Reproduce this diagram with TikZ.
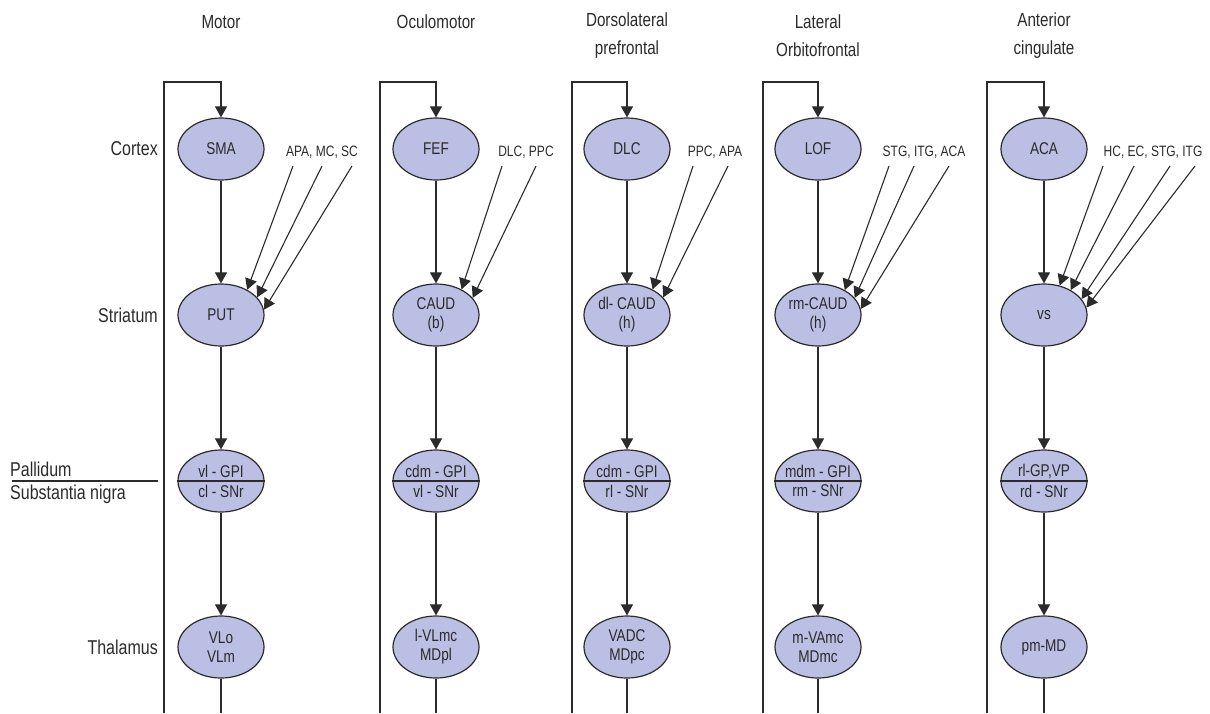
\documentclass[tikz,border=0pt]{standalone}
\usepackage{fontspec}
\setmainfont{Liberation Sans}[FakeStretch=0.8]
\usepackage{tikz}
\usetikzlibrary{shapes.geometric,arrows.meta,positioning,calc}
\definecolor{nucleus}{HTML}{BBBFE3}
\definecolor{ink}{HTML}{2B2B2B}
\tikzset{
  region/.style={ellipse,draw=ink,line width=1.2pt,fill=nucleus,minimum width=86pt,
    minimum height=62pt,inner sep=0pt,align=center,text=ink,font=\fontsize{17}{19}\selectfont},
  flow/.style={draw=ink,line width=1.1pt,-{Triangle[length=11pt,width=12pt]}},
  plain/.style={draw=ink,line width=1.1pt},
  inlabel/.style={text=ink,font=\fontsize{15}{19}\selectfont,inner sep=0pt},
  partlabel/.style={text=ink,font=\fontsize{17}{19}\selectfont,inner sep=0pt},
  rowlabel/.style={text=ink,font=\fontsize{20}{28}\selectfont,inner sep=0pt},
  heading/.style={text=ink,font=\fontsize{19}{28}\selectfont,align=center,inner sep=0pt}
}

\begin{document}
\begin{tikzpicture}[x=1pt,y=-1pt]
  \useasboundingbox (0,0) rectangle (1210,713);

  % headings
  \node[heading] (h-mot) at (221,22) {Motor};
  \node[heading] (h-ocu) at (436,22) {Oculomotor};
  \node[heading] (h-dlp) at (627,36) {Dorsolateral\\prefrontal};
  \node[heading] (h-lof) at (818,36) {Lateral\\Orbitofrontal};
  \node[heading] (h-acc) at (1044,36) {Anterior\\cingulate};

  % row labels
  \node[rowlabel,anchor=east] (r-ctx) at (158,149) {Cortex};
  \node[rowlabel,anchor=east] (r-str) at (158,315) {Striatum};
  \node[rowlabel,anchor=west] (r-pal) at (10,469) {Pallidum};
  \node[rowlabel,anchor=west] (r-snr) at (10,494) {Substantia nigra};
  \coordinate (r-sep1) at (12,481);
  \coordinate (r-sep2) at (158,481);
  \draw[plain] (r-sep1) -- (r-sep2);
  \node[rowlabel,anchor=east] (r-thal) at (158,647) {Thalamus};

  % motor
  \node[region] (mot-ctx) at (221,149) {SMA};
  \node[region] (mot-str) at (221,315) {PUT};
  \node[region] (mot-pal) at (221,481) {};
  \node[region] (mot-thal) at (221,647) {VLo\\VLm};
  \draw[plain] (mot-pal.west) -- (mot-pal.east);
  \node[partlabel] (mot-pal-a) at ([yshift=10pt]mot-pal.center) {vl - GPI};
  \node[partlabel] (mot-pal-b) at ([yshift=-10pt]mot-pal.center) {cl - SNr};
  \draw[flow] (mot-ctx) -- (mot-str);
  \draw[flow] (mot-str) -- (mot-pal);
  \draw[flow] (mot-pal) -- (mot-thal);
  \coordinate (mot-end) at (221,713);
  \draw[plain] (mot-thal) -- (mot-end);
  \coordinate (mot-lb) at (164,713);
  \coordinate (mot-lt) at (164,82);
  \draw[flow] (mot-lb) -- (mot-lt) -| (mot-ctx.north);
  \node[inlabel] (mot-in) at (322,152) {APA, MC, SC};
  \coordinate (mot-in1) at (293,166);
  \coordinate (mot-in2) at (322,166);
  \coordinate (mot-in3) at (352,166);
  \draw[flow] (mot-in1) -- (mot-str.44);
  \draw[flow] (mot-in2) -- (mot-str.26);
  \draw[flow] (mot-in3) -- (mot-str.7);

  % oculomotor
  \node[region] (ocu-ctx) at (436,149) {FEF};
  \node[region] (ocu-str) at (436,315) {CAUD\\(b)};
  \node[region] (ocu-pal) at (436,481) {};
  \node[region] (ocu-thal) at (436,647) {l-VLmc\\MDpl};
  \draw[plain] (ocu-pal.west) -- (ocu-pal.east);
  \node[partlabel] (ocu-pal-a) at ([yshift=10pt]ocu-pal.center) {cdm - GPI};
  \node[partlabel] (ocu-pal-b) at ([yshift=-10pt]ocu-pal.center) {vl - SNr};
  \draw[flow] (ocu-ctx) -- (ocu-str);
  \draw[flow] (ocu-str) -- (ocu-pal);
  \draw[flow] (ocu-pal) -- (ocu-thal);
  \coordinate (ocu-end) at (436,713);
  \draw[plain] (ocu-thal) -- (ocu-end);
  \coordinate (ocu-lb) at (380,713);
  \coordinate (ocu-lt) at (380,82);
  \draw[flow] (ocu-lb) -- (ocu-lt) -| (ocu-ctx.north);
  \node[inlabel] (ocu-in) at (526,152) {DLC, PPC};
  \coordinate (ocu-in1) at (502,166);
  \coordinate (ocu-in2) at (536,166);
  \draw[flow] (ocu-in1) -- (ocu-str.45);
  \draw[flow] (ocu-in2) -- (ocu-str.25);

  % dorsolateral prefrontal
  \node[region] (dlp-ctx) at (627,149) {DLC};
  \node[region] (dlp-str) at (627,315) {dl- CAUD\\(h)};
  \node[region] (dlp-pal) at (627,481) {};
  \node[region] (dlp-thal) at (627,647) {VADC\\MDpc};
  \draw[plain] (dlp-pal.west) -- (dlp-pal.east);
  \node[partlabel] (dlp-pal-a) at ([yshift=10pt]dlp-pal.center) {cdm - GPI};
  \node[partlabel] (dlp-pal-b) at ([yshift=-10pt]dlp-pal.center) {rl - SNr};
  \draw[flow] (dlp-ctx) -- (dlp-str);
  \draw[flow] (dlp-str) -- (dlp-pal);
  \draw[flow] (dlp-pal) -- (dlp-thal);
  \coordinate (dlp-end) at (627,713);
  \draw[plain] (dlp-thal) -- (dlp-end);
  \coordinate (dlp-lb) at (572,713);
  \coordinate (dlp-lt) at (572,82);
  \draw[flow] (dlp-lb) -- (dlp-lt) -| (dlp-ctx.north);
  \node[inlabel] (dlp-in) at (715,152) {PPC, APA};
  \coordinate (dlp-in1) at (693,166);
  \coordinate (dlp-in2) at (728,166);
  \draw[flow] (dlp-in1) -- (dlp-str.45);
  \draw[flow] (dlp-in2) -- (dlp-str.26);

  % lateral orbitofrontal
  \node[region] (lof-ctx) at (818,149) {LOF};
  \node[region] (lof-str) at (818,315) {rm-CAUD\\(h)};
  \node[region] (lof-pal) at (818,481) {};
  \node[region] (lof-thal) at (818,647) {m-VAmc\\MDmc};
  \draw[plain] (lof-pal.west) -- (lof-pal.east);
  \node[partlabel] (lof-pal-a) at ([yshift=10pt]lof-pal.center) {mdm - GPI};
  \node[partlabel] (lof-pal-b) at ([yshift=-10pt]lof-pal.center) {rm - SNr};
  \draw[flow] (lof-ctx) -- (lof-str);
  \draw[flow] (lof-str) -- (lof-pal);
  \draw[flow] (lof-pal) -- (lof-thal);
  \coordinate (lof-end) at (818,713);
  \draw[plain] (lof-thal) -- (lof-end);
  \coordinate (lof-lb) at (763,713);
  \coordinate (lof-lt) at (763,82);
  \draw[flow] (lof-lb) -- (lof-lt) -| (lof-ctx.north);
  \node[inlabel] (lof-in) at (924,152) {STG, ITG, ACA};
  \coordinate (lof-in1) at (889,166);
  \coordinate (lof-in2) at (914,166);
  \coordinate (lof-in3) at (949,166);
  \draw[flow] (lof-in1) -- (lof-str.43);
  \draw[flow] (lof-in2) -- (lof-str.25);
  \draw[flow] (lof-in3) -- (lof-str.8);

  % anterior cingulate
  \node[region] (acc-ctx) at (1044,149) {ACA};
  \node[region] (acc-str) at (1044,315) {vs};
  \node[region] (acc-pal) at (1044,481) {};
  \node[region] (acc-thal) at (1044,647) {pm-MD};
  \draw[plain] (acc-pal.west) -- (acc-pal.east);
  \node[partlabel] (acc-pal-a) at ([yshift=10pt]acc-pal.center) {rl-GP,VP};
  \node[partlabel] (acc-pal-b) at ([yshift=-10pt]acc-pal.center) {rd - SNr};
  \draw[flow] (acc-ctx) -- (acc-str);
  \draw[flow] (acc-str) -- (acc-pal);
  \draw[flow] (acc-pal) -- (acc-thal);
  \coordinate (acc-end) at (1044,713);
  \draw[plain] (acc-thal) -- (acc-end);
  \coordinate (acc-lb) at (987,713);
  \coordinate (acc-lt) at (987,82);
  \draw[flow] (acc-lb) -- (acc-lt) -| (acc-ctx.north);
  \node[inlabel] (acc-in) at (1153,152) {HC, EC, STG, ITG};
  \coordinate (acc-in1) at (1103,166);
  \coordinate (acc-in2) at (1134,166);
  \coordinate (acc-in3) at (1170,166);
  \coordinate (acc-in4) at (1195,166);
  \draw[flow] (acc-in1) -- (acc-str.62);
  \draw[flow] (acc-in2) -- (acc-str.43);
  \draw[flow] (acc-in3) -- (acc-str.23);
  \draw[flow] (acc-in4) -- (acc-str.10);
\end{tikzpicture}
\end{document}
